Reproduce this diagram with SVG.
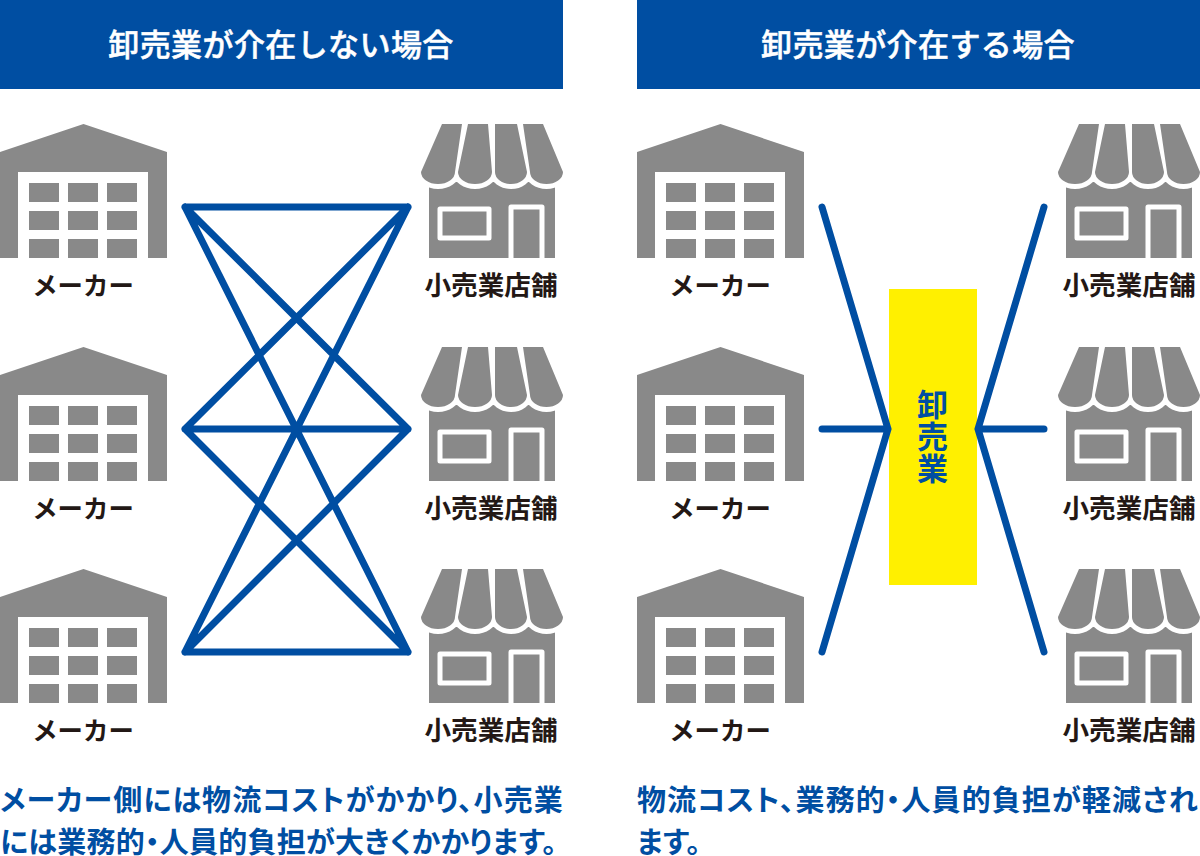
<svg xmlns="http://www.w3.org/2000/svg" xmlns:xlink="http://www.w3.org/1999/xlink" width="1200" height="856" viewBox="0 0 1200 856">
<style>
text{font-family:"Noto Sans CJK JP","Noto Sans",sans-serif}
.hd{fill:#fff;stroke:#fff;stroke-width:.5px;font-size:31px;font-weight:500;text-anchor:middle;letter-spacing:.4px}
.lb{fill:#231815;font-size:26.6px;font-weight:700;text-anchor:middle}
.mk{fill:#231815;font-size:25.4px;font-weight:700;text-anchor:middle}
.ds{fill:#004ea2;font-size:29px;font-weight:700;font-feature-settings:"palt"}
.w{letter-spacing:1.1px}
.n{letter-spacing:.25px}
.g{fill:#898989}
.c{fill:none;stroke:#004ea2;stroke-width:7;stroke-linecap:round;stroke-linejoin:miter}
</style>
<defs>
<g id="factory">
<path class="g" d="M0 28 83.5 0 167 28V134H148V48H18V134H0Z"/>
<path class="g" d="M29 59h30v19H29zM68 59h30v19H68zM107 59h30v19h-30zM29 87h30v19H29zM68 87h30v19H68zM107 87h30v19h-30zM29 115h30v19H29zM68 115h30v19H68zM107 115h30v19h-30z"/>
</g>
<path id="awn" d="M22 0H42L35 48A17 12 0 0 1 1 48ZM48 0H68L72 48A17 12 0 0 1 38 48ZM75 0H97L107 48A16 12 0 0 1 75 48ZM103 0H123L143 48A16.5 12 0 0 1 110 48Z"/>
<g id="store">
<path class="g" d="M9 46H135V134H9Z"/>
<path d="M20 85H69V114H20ZM91 134V83H122V134" fill="none" stroke="#fff" stroke-width="5" stroke-linejoin="round"/>
<use xlink:href="#awn" href="#awn" fill="#fff" stroke="#fff" stroke-width="10" stroke-linejoin="round"/>
<rect x="-6" y="-6" width="156" height="6" fill="#fff"/>
<use xlink:href="#awn" href="#awn" class="g"/>
</g>
</defs>
<g id="header-left"><rect x="0" y="0" width="563" height="89" fill="#004ea2"/><text class="hd" x="281" y="56">卸売業が介在しない場合</text></g>
<g id="header-right"><rect x="637" y="0" width="563" height="89" fill="#004ea2"/><text class="hd" x="918" y="56">卸売業が介在する場合</text></g>
<g id="maker-l1"><use xlink:href="#factory" href="#factory" x="0" y="124"/><text class="mk" x="83" y="295">メーカー</text></g>
<g id="maker-l2"><use xlink:href="#factory" href="#factory" x="0" y="347"/><text class="mk" x="83" y="518">メーカー</text></g>
<g id="maker-l3"><use xlink:href="#factory" href="#factory" x="0" y="569"/><text class="mk" x="83" y="740">メーカー</text></g>
<g id="store-l1"><use xlink:href="#store" href="#store" x="420" y="124"/><text class="lb" x="491" y="295">小売業店舗</text></g>
<g id="store-l2"><use xlink:href="#store" href="#store" x="420" y="347"/><text class="lb" x="491" y="518">小売業店舗</text></g>
<g id="store-l3"><use xlink:href="#store" href="#store" x="420" y="569"/><text class="lb" x="491" y="740">小売業店舗</text></g>
<g id="maker-r1"><use xlink:href="#factory" href="#factory" x="637" y="124"/><text class="mk" x="720" y="295">メーカー</text></g>
<g id="maker-r2"><use xlink:href="#factory" href="#factory" x="637" y="347"/><text class="mk" x="720" y="518">メーカー</text></g>
<g id="maker-r3"><use xlink:href="#factory" href="#factory" x="637" y="569"/><text class="mk" x="720" y="740">メーカー</text></g>
<g id="store-r1"><use xlink:href="#store" href="#store" x="1057" y="124"/><text class="lb" x="1129" y="295">小売業店舗</text></g>
<g id="store-r2"><use xlink:href="#store" href="#store" x="1057" y="347"/><text class="lb" x="1129" y="518">小売業店舗</text></g>
<g id="store-r3"><use xlink:href="#store" href="#store" x="1057" y="569"/><text class="lb" x="1129" y="740">小売業店舗</text></g>
<g id="wholesaler"><rect x="889" y="289" width="88" height="296" fill="#fff000"/>
<text writing-mode="vertical-rl" x="932.5" y="389" font-size="31" font-weight="700" fill="#004ea2" letter-spacing="1">卸売業</text></g>
<g id="connectors">
<path class="c" d="M185 207H408M185 429H408M185 652H408M185 207 408 429M185 207 408 652M185 429 408 207M185 429 408 652M185 652 408 207M185 652 408 429"/>
<path class="c" d="M822 207 888 429 822 652M822 429H888M1044 207 978 429 1044 652M1044 429H978"/>
</g>
<text class="ds w" x="0" y="811">メーカー側には物流コストがかかり、小売業</text>
<text class="ds n" x="0" y="853">には業務的・人員的負担が大きくかかります。</text>
<text class="ds w" x="637" y="811">物流コスト、業務的・人員的負担が軽減され</text>
<text class="ds" x="637" y="853">ます。</text>
</svg>
